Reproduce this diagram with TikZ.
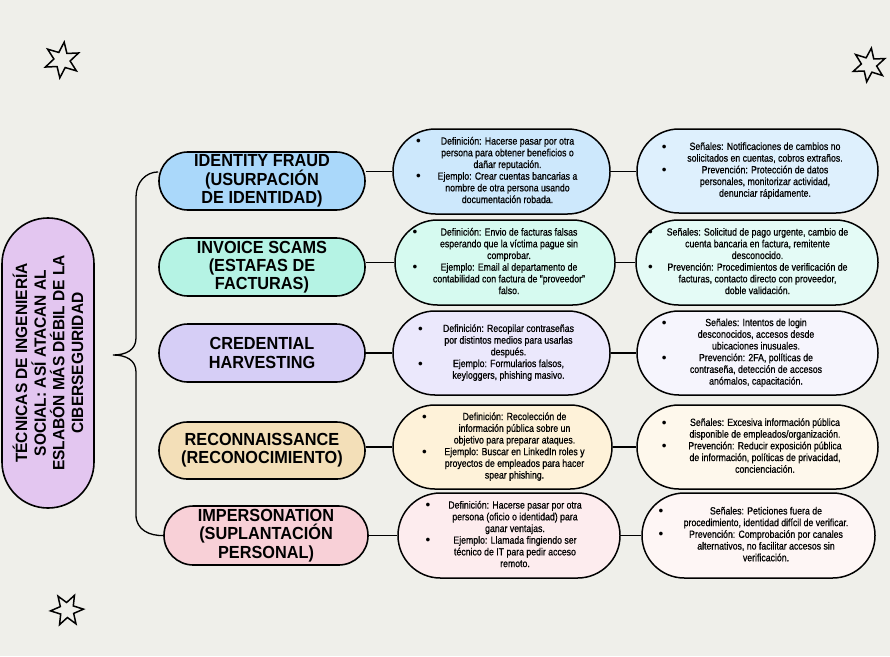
\documentclass[tikz,border=0pt]{standalone}
\usepackage{fontspec}
\setmainfont{Liberation Sans}
\newfontfamily\smallf[FakeStretch=0.84,FakeBold=0.8]{Liberation Sans}
\newfontfamily\catf[FakeStretch=0.93]{Liberation Sans}
\newfontfamily\rootf[FakeStretch=0.95]{Liberation Sans}
\newfontfamily\bulf{Liberation Sans}
\usepackage{array}
\usetikzlibrary{shapes.geometric}
\definecolor{bgc}{HTML}{EFEFEA}
\definecolor{rootc}{HTML}{E3C6F0}
\definecolor{ca}{HTML}{AAD8FA}\definecolor{da}{HTML}{CDE8FC}\definecolor{sa}{HTML}{DEF0FD}
\definecolor{cb}{HTML}{B5F3E4}\definecolor{db}{HTML}{D6FAF0}\definecolor{sb}{HTML}{E4FBF6}
\definecolor{cc}{HTML}{D6CEF6}\definecolor{dc}{HTML}{EBE8FC}\definecolor{sc}{HTML}{F6F5FD}
\definecolor{cd}{HTML}{F3DFB8}\definecolor{dd}{HTML}{FEF2D9}\definecolor{sd}{HTML}{FEF8EC}
\definecolor{ce}{HTML}{F8D0D7}\definecolor{de}{HTML}{FDECEE}\definecolor{se}{HTML}{FEF6F5}
\newlength\bo
\newcommand\bdot{\raisebox{-1.1pt}{\bulf\fontsize{13.5}{13.5}\selectfont\textbullet}}
\newcommand\bl[1]{\setbox0=\hbox{#1}\llap{\makebox[0pt]{\bdot}\hspace{\dimexpr\bo-.5\wd0\relax}}\box0}
\newcommand\btxt[3]{\bo=#2pt\relax\hspace*{#1pt}\begin{tabular}{@{}c@{}}#3\end{tabular}}
\renewcommand\arraystretch{1}
\begin{document}
\begin{tikzpicture}[x=1pt,y=-1pt,
  pill/.style n args={3}{minimum width=#1pt, minimum height=#2pt, rounded corners=#3pt},
  catbox/.style={draw, line width=1.6pt, inner sep=0pt, align=center,
    font=\catf\bfseries\fontsize{17.5}{18.3}\selectfont},
  infobox/.style={draw, line width=1.5pt, inner sep=0pt,
    font=\smallf\fontsize{10.4}{11.7}\selectfont},
  rootbox/.style={draw, line width=1.6pt, inner sep=0pt, align=center, rotate=90,
    font=\rootf\bfseries\fontsize{16.3}{18.6}\selectfont},
  conn/.style={line width=1.3pt},
  starsh/.style={star, star points=6, star point ratio=2.2, draw, line width=1.5pt, inner sep=0pt}]
\fill[bgc] (0,0) rectangle (890,656);
\useasboundingbox (0,0) rectangle (890,656);

% stars
\node[starsh, minimum size=36pt, rotate=-7] (st1) at (62,60) {};
\node[starsh, minimum size=34pt, rotate=-8] (st2) at (869,65) {};
\node[starsh, minimum size=33pt, rotate=-27] (st3) at (67,610) {};

% root
\node[rootbox, pill={290}{92}{45.9}, fill=rootc] (root) at (48,363)
  {TÉCNICAS DE INGENIERÍA\\SOCIAL: ASÍ ATACAN AL\\ESLABÓN MÁS DÉBIL DE LA\\CIBERSEGURIDAD};

% categories
\node[catbox, pill={206}{58}{28.9}, fill=ca] (c1) at (262,181) {IDENTITY FRAUD\\(USURPACIÓN\\DE IDENTIDAD)};
\node[catbox, pill={206}{58}{28.9}, fill=cb] (c2) at (262,267) {INVOICE SCAMS\\(ESTAFAS DE\\FACTURAS)};
\node[catbox, pill={206}{58}{28.9}, fill=cc] (c3) at (262,353) {CREDENTIAL\\HARVESTING};
\node[catbox, pill={206}{57}{28.4}, fill=cd] (c4) at (262,450.5) {RECONNAISSANCE\\(RECONOCIMIENTO)};
\node[catbox, pill={204}{59}{29.4}, fill=ce] (c5) at (266,535.5) {IMPERSONATION\\(SUPLANTACIÓN\\PERSONAL)};

% definition boxes
\node[infobox, pill={217}{85}{42.4}, fill=da] (d1) at (501.5,171.5) {\btxt{12}{89}{%
\bl{Definición: Hacerse pasar por otra}\\
persona para obtener beneficios o\\
dañar reputación.\\
\bl{Ejemplo: Crear cuentas bancarias a}\\
nombre de otra persona usando\\
documentación robada.}};
\node[infobox, pill={220}{85}{42.4}, fill=db] (d2) at (505,262.5) {\btxt{8}{94}{%
\bl{Definición: Envio de facturas falsas}\\
esperando que la víctima pague sin\\
comprobar.\\
\bl{Ejemplo: Email al departamento de}\\
contabilidad con factura de “proveedor”\\
falso.}};
\node[infobox, pill={217}{84}{41.9}, fill=dc] (d3) at (501.5,353) {\btxt{14}{88}{%
\bl{Definición: Recopilar contraseñas}\\
por distintos medios para usarlas\\
después.\\
\bl{Ejemplo: Formularios falsos,}\\
keyloggers, phishing masivo.}};
\node[infobox, pill={219}{84}{41.9}, fill=dd] (d4) at (502.5,447) {\btxt{24}{90}{%
\bl{Definición: Recolección de}\\
información pública sobre un\\
objetivo para preparar ataques.\\
\bl{Ejemplo: Buscar en LinkedIn roles y}\\
proyectos de empleados para hacer\\
spear phishing.}};
\node[infobox, pill={222}{85}{42.4}, fill=de] (d5) at (509,535.5) {\btxt{12}{87}{%
\bl{Definición: Hacerse pasar por otra}\\
persona (oficio o identidad) para\\
ganar ventajas.\\
\bl{Ejemplo: Llamada fingiendo ser}\\
técnico de IT para pedir acceso\\
remoto.}};

% signal boxes
\node[infobox, pill={241}{84}{41.9}, fill=sa] (s1) at (757.5,171) {\btxt{15}{100.7}{%
\bl{Señales: Notificaciones de cambios no}\\
solicitados en cuentas, cobros extraños.\\
\bl{Prevención: Protección de datos}\\
personales, monitorizar actividad,\\
denunciar rápidamente.}};
\node[infobox, pill={242}{85}{42.4}, fill=sb] (s2) at (757,262.5) {\btxt{1}{107}{%
\bl{Señales: Solicitud de pago urgente, cambio de}\\
cuenta bancaria en factura, remitente\\
desconocido.\\
\bl{Prevención: Procedimientos de verificación de}\\
facturas, contacto directo con proveedor,\\
doble validación.}};
\node[infobox, pill={241}{84}{41.9}, fill=sc] (s3) at (757.5,353) {\btxt{-3}{91.7}{%
\bl{Señales: Intentos de login}\\
desconocidos, accesos desde\\
ubicaciones inusuales.\\
\bl{Prevención: 2FA, políticas de}\\
contraseña, detección de accesos\\
anómalos, capacitación.}};
\node[infobox, pill={241}{84}{41.9}, fill=sd] (s4) at (757.5,447) {\btxt{15}{100.7}{%
\bl{Señales: Excesiva información pública}\\
disponible de empleados/organización.\\
\bl{Prevención: Reducir exposición pública}\\
de información, políticas de privacidad,\\
concienciación.}};
\node[infobox, pill={233}{85}{42.4}, fill=se] (s5) at (758.5,535.5) {\btxt{15}{105}{%
\bl{Señales: Peticiones fuera de}\\
procedimiento, identidad difícil de verificar.\\
\bl{Prevención: Comprobación por canales}\\
alternativos, no facilitar accesos sin\\
verificación.}};

% connectors
\foreach \i in {1,...,5}{
  \draw[conn] (c\i.east |- d\i.west) -- (d\i.west);
  \draw[conn] (d\i.east) -- (d\i.east -| s\i.west);
}

% brace
\coordinate (btip) at (113,355);
\draw[conn] (c1.175) .. controls (146,172) and (136,182) .. (136,197) -- (136,338)
  .. controls (136,350) and (126,355) .. (btip)
  .. controls (126,355) and (136,360) .. (136,372) -- (136,515)
  .. controls (136,530) and (150,536) .. (c5.west);
\end{tikzpicture}
\end{document}
